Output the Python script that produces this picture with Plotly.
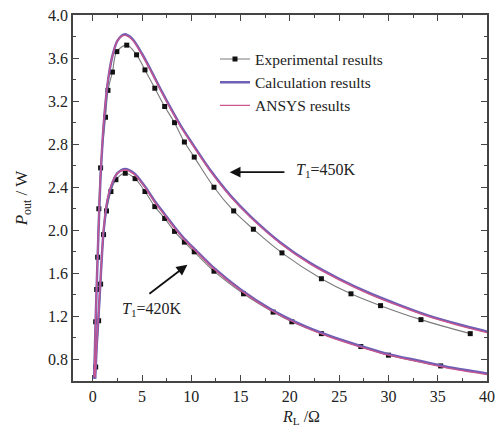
import plotly.graph_objects as go

# ---- data ----
exp450_x = [0.3, 0.4, 0.5, 0.62, 0.8, 1.3, 1.55, 2.0, 2.45, 3.45, 4.45, 5.3, 6.3, 7.3, 8.3, 9.3, 10.3,
            12.3, 14.3, 16.3, 19.2, 23.2, 26.2, 29.2, 33.3, 38.3]
exp450_y = [1.15, 1.45, 1.75, 2.20, 2.58, 3.05, 3.30, 3.47, 3.66, 3.72, 3.63, 3.49, 3.32, 3.15, 3.00, 2.82, 2.68,
            2.40, 2.18, 2.01, 1.79, 1.55, 1.41, 1.30, 1.17, 1.04]

exp420_x = [0.3, 0.6, 0.8, 1.1, 1.4, 1.85, 2.35, 3.3, 4.3, 5.3, 6.3, 7.3, 8.3, 9.3, 10.3, 12.3, 15.3,
            18.3, 20.2, 23.2, 27.2, 30.0, 35.3]
exp420_y = [0.73, 1.16, 1.50, 1.96, 2.18, 2.36, 2.47, 2.53, 2.48, 2.36, 2.22, 2.11, 1.99, 1.89, 1.80, 1.62, 1.41,
            1.24, 1.15, 1.04, 0.92, 0.84, 0.74]

calc450_x = [0.15, 0.3, 0.5, 0.8, 1.2, 1.6, 2.0, 2.5, 3.2, 4.0, 5.0, 6.0, 7.0, 8.0, 9.0, 10.0, 12.0, 14.0,
             16.0, 19.0, 22.0, 25.0, 28.0, 31.0, 34.0, 37.0, 40.0]
calc450_y = [0.62, 1.17, 1.75, 2.50, 3.08, 3.42, 3.62, 3.76, 3.82, 3.78, 3.64, 3.47, 3.29, 3.12, 2.96, 2.82, 2.55, 2.32,
             2.13, 1.89, 1.70, 1.55, 1.42, 1.31, 1.21, 1.13, 1.06]
ansys450_y = [0.64, 1.20, 1.78, 2.53, 3.10, 3.43, 3.62, 3.76, 3.81, 3.77, 3.63, 3.46, 3.28, 3.11, 2.95, 2.81, 2.54, 2.31,
              2.12, 1.88, 1.69, 1.54, 1.41, 1.30, 1.20, 1.12, 1.05]

calc420_x = [0.25, 0.4, 0.6, 0.8, 1.1, 1.5, 2.0, 2.5, 3.3, 4.2, 5.2, 6.3, 7.3, 8.3, 9.3, 10.3, 12.3, 15.0,
             18.0, 21.0, 24.0, 27.0, 30.0, 33.0, 36.0, 40.0]
calc420_y = [0.62, 0.92, 1.22, 1.55, 1.99, 2.28, 2.44, 2.53, 2.57, 2.53, 2.42, 2.27, 2.15, 2.03, 1.92, 1.83, 1.65, 1.45,
             1.27, 1.13, 1.02, 0.93, 0.85, 0.79, 0.73, 0.67]
ansys420_y = [0.63, 0.94, 1.24, 1.57, 2.01, 2.29, 2.45, 2.53, 2.56, 2.52, 2.41, 2.26, 2.14, 2.02, 1.91, 1.82, 1.64, 1.44,
              1.26, 1.12, 1.01, 0.92, 0.84, 0.78, 0.72, 0.66]

y_ticks = [0.8, 1.2, 1.6, 2.0, 2.4, 2.8, 3.2, 3.6, 4.0]
x_ticks = [0, 5, 10, 15, 20, 25, 30, 35, 40]

CALC = "#6f5fb5"
ANSYS = "#c9558f"
FONT = "Liberation Serif"
TXT = "#222222"

fig = go.Figure()

# experimental
for i, (xs, ys) in enumerate([(exp450_x, exp450_y), (exp420_x, exp420_y)]):
    fig.add_trace(go.Scatter(
        x=xs, y=ys, mode="lines+markers", name="Experimental results",
        showlegend=(i == 0), legendrank=1,
        line=dict(color="#7a7a7a", width=1.1, shape="spline"),
        marker=dict(symbol="square", size=5, color="#111111"),
    ))

# calculation
for i, (xs, ys) in enumerate([(calc450_x, calc450_y), (calc420_x, calc420_y)]):
    fig.add_trace(go.Scatter(
        x=xs, y=ys, mode="lines", name="Calculation results",
        showlegend=(i == 0), legendrank=2,
        line=dict(color=CALC, width=2.5, shape="spline", smoothing=0.8),
    ))

# ANSYS
for i, (xs, ys) in enumerate([(calc450_x, ansys450_y), (calc420_x, ansys420_y)]):
    fig.add_trace(go.Scatter(
        x=xs, y=ys, mode="lines", name="ANSYS results",
        showlegend=(i == 0), legendrank=3,
        line=dict(color=ANSYS, width=1.3, shape="spline", smoothing=0.8),
    ))

axis_common = dict(
    showline=True, linecolor="#444444", linewidth=1.5, mirror="ticks",
    ticks="inside", ticklen=6, tickwidth=1.3, tickcolor="#444444",
    showgrid=False, zeroline=False,
    tickfont=dict(family=FONT, size=16, color=TXT),
)

fig.update_xaxes(range=[-2, 40], tickvals=x_ticks, ticktext=[str(v) for v in x_ticks],
                 minor=dict(ticks="inside", ticklen=3, tickcolor="#444444", dtick=2.5, tick0=0),
                 **axis_common)
fig.update_yaxes(range=[0.6, 4.0], tickvals=y_ticks, ticktext=[f"{v:.1f}" for v in y_ticks],
                 minor=dict(ticks="inside", ticklen=3, tickcolor="#444444", dtick=0.2, tick0=0),
                 title=dict(text="<i>P</i><sub>out</sub> / W", font=dict(family=FONT, size=17, color=TXT),
                            standoff=16),
                 **axis_common)

# x-axis title (placed as in the reference, right of centre)
fig.add_annotation(x=0.55, y=0, xref="paper", yref="paper", yshift=-36, yanchor="middle",
                   showarrow=False, text="<i>R</i><sub>L</sub> /Ω",
                   font=dict(family=FONT, size=16, color=TXT))

arrow_font = dict(family=FONT, size=16, color=TXT)
fig.add_annotation(x=13.9, y=2.54, ax=19.6, ay=2.54, axref="x", ayref="y", xref="x", yref="y",
                   showarrow=True, arrowhead=2, arrowsize=1.2, arrowwidth=1.8, arrowcolor="#111111", text="")
fig.add_annotation(x=20.4, y=2.56, xref="x", yref="y", xanchor="left", showarrow=False,
                   text="<i>T</i><sub>1</sub>=450K", font=arrow_font)
fig.add_annotation(x=9.6, y=1.68, ax=5.6, ay=1.40, axref="x", ayref="y", xref="x", yref="y",
                   showarrow=True, arrowhead=2, arrowsize=1.2, arrowwidth=1.8, arrowcolor="#111111", text="")
fig.add_annotation(x=6.0, y=1.26, xref="x", yref="y", showarrow=False,
                   text="<i>T</i><sub>1</sub>=420K", font=arrow_font)

fig.update_layout(
    width=501, height=435,
    margin=dict(l=73, r=6, t=15, b=54),
    paper_bgcolor="white", plot_bgcolor="white",
    font=dict(family=FONT, color=TXT),
    legend=dict(x=0.343, y=0.925, xanchor="left", yanchor="top", bgcolor="rgba(0,0,0,0)",
                font=dict(family=FONT, size=15.5, color=TXT), tracegroupgap=0, itemwidth=30),
)

fig.write_html("out.html")
